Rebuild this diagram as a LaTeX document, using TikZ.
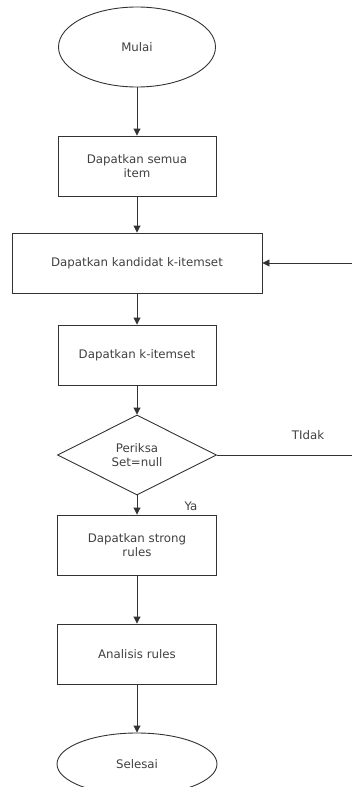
\documentclass[tikz,border=0pt]{standalone}
\usepackage{fontspec}
\setmainfont{DejaVu Sans}
\usetikzlibrary{shapes.geometric}
\usetikzlibrary{arrows.meta}
\usetikzlibrary{positioning}

\begin{document}
\begin{tikzpicture}[x=1pt, y=-1pt, line width=0.9pt, draw=black!80,
>={Triangle[length=7pt, width=7pt]},
every node/.style={font=\fontsize{11.8}{14}\selectfont, text=black!75, align=center},
kotak/.style={draw, rectangle, minimum height=60pt, inner sep=2pt},
oval/.style={draw, ellipse, minimum width=157pt, minimum height=80pt},
cek/.style={draw, diamond, aspect=2, inner sep=0pt, minimum width=159pt, minimum height=80pt}]
\useasboundingbox (0,0) rectangle (352,787);
\clip (0,0) rectangle (352,787);
\node[oval] (mulai) at (137,47) {Mulai};
\node[kotak, minimum width=158pt] (semua) at (137,166) {Dapatkan semua\\item};
\node[kotak, minimum width=250pt] (kandidat) at (137,263) {Dapatkan kandidat k-itemset};
\node[kotak, minimum width=158pt] (kitem) at (137,355) {Dapatkan k-itemset};
\node[cek] (periksa) at (137,455) {Periksa\\Set=null};
\node[kotak, minimum width=159pt] (strong) at (137,545) {Dapatkan strong\\rules};
\node[kotak, minimum width=159pt] (analisis) at (137,654) {Analisis rules};
\node[oval, minimum width=160pt, minimum height=62pt] (selesai) at (137,764) {Selesai};
\node (ya) at (191,506) {Ya};
\node (tidak) at (308,435) {TIdak};
\coordinate (balik1) at (358,455);
\coordinate (balik2) at (358,263);
\foreach \i/\j in {mulai/semua, semua/kandidat, kandidat/kitem, kitem/periksa, periksa/strong, strong/analisis, analisis/selesai}{
\draw[->] (\i) -- (\j);}
\draw[->] (periksa.east) -- (balik1) -- (balik2) -- (kandidat.east);
\end{tikzpicture}
\end{document}
